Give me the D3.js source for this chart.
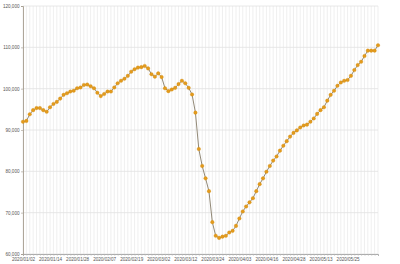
<!DOCTYPE html>
<html>
<head>
<meta charset="utf-8">
<script src="https://cdn.jsdelivr.net/npm/d3@7"></script>
<style>
  body { margin: 0; background: #fff; }
  svg { display: block; }
  .tick text { font-family: "Liberation Sans", Arial, sans-serif; fill: #555; }
</style>
</head>
<body>
<div id="chart"></div>
<script>
// trading days (Korean market calendar), Jan 2 - Jun 5 2020
var dates = [
  "2020/01/02","2020/01/03","2020/01/06","2020/01/07","2020/01/08","2020/01/09","2020/01/10","2020/01/13","2020/01/14","2020/01/15",
  "2020/01/16","2020/01/17","2020/01/20","2020/01/21","2020/01/22","2020/01/23","2020/01/28","2020/01/29","2020/01/30","2020/01/31",
  "2020/02/03","2020/02/04","2020/02/05","2020/02/06","2020/02/07","2020/02/10","2020/02/11","2020/02/12","2020/02/13","2020/02/14",
  "2020/02/17","2020/02/18","2020/02/19","2020/02/20","2020/02/21","2020/02/24","2020/02/25","2020/02/26","2020/02/27","2020/02/28",
  "2020/03/02","2020/03/03","2020/03/04","2020/03/05","2020/03/06","2020/03/09","2020/03/10","2020/03/11","2020/03/12","2020/03/13",
  "2020/03/16","2020/03/17","2020/03/18","2020/03/19","2020/03/20","2020/03/23","2020/03/24","2020/03/25","2020/03/26","2020/03/27",
  "2020/03/30","2020/03/31","2020/04/01","2020/04/02","2020/04/03","2020/04/06","2020/04/07","2020/04/08","2020/04/09","2020/04/10",
  "2020/04/13","2020/04/14","2020/04/16","2020/04/17","2020/04/20","2020/04/21","2020/04/22","2020/04/23","2020/04/24","2020/04/27",
  "2020/04/28","2020/04/29","2020/05/04","2020/05/06","2020/05/07","2020/05/08","2020/05/11","2020/05/12","2020/05/13","2020/05/14",
  "2020/05/15","2020/05/18","2020/05/19","2020/05/20","2020/05/21","2020/05/22","2020/05/25","2020/05/26","2020/05/27","2020/05/28",
  "2020/05/29","2020/06/01","2020/06/02","2020/06/03","2020/06/04","2020/06/05"
];

var values = [
  92000, 92200, 93800, 94800, 95300, 95300, 94800, 94400, 95500, 96300,
  96800, 97600, 98500, 98900, 99300, 99500, 100100, 100300, 100900, 101000,
  100600, 100100, 99000, 98200, 98700, 99300, 99300, 100300, 101300, 101900,
  102400, 103100, 104100, 104700, 105100, 105200, 105500, 104900, 103500, 102900,
  103700, 102800, 100100, 99400, 99800, 100200, 101100, 101900, 101300, 100200,
  98600, 94200, 85400, 81300, 78300, 75200, 67700, 64400, 63900, 64200,
  64400, 65200, 65600, 66800, 68600, 70300, 71500, 72500, 73500, 75200,
  76900, 78300, 79900, 81300, 82600, 83600, 85000, 86200, 87300, 88400,
  89300, 89900, 90600, 91100, 91300, 92000, 92800, 93900, 94800, 95500,
  97100, 98500, 99500, 100700, 101500, 101900, 102100, 103100, 104500, 105700,
  106500, 107900, 109200, 109200, 109200, 110500
];

var tickLabels = ["2020/01/02","2020/01/14","2020/01/28","2020/02/07","2020/02/19","2020/03/02","2020/03/12",
                  "2020/03/24","2020/04/03","2020/04/16","2020/04/28","2020/05/13","2020/05/25"];
var yTicks = [60000, 70000, 80000, 90000, 100000, 110000, 120000];

var width = 400, height = 264;
var margin = { top: 6, right: 22, bottom: 10, left: 23 };

var svg = d3.select("#chart").append("svg")
    .attr("width", width)
    .attr("height", height);

var x = d3.scalePoint()
    .domain(dates)
    .range([margin.left, width - margin.right]);

var y = d3.scaleLinear()
    .domain([60000, 120000])
    .range([height - margin.bottom, margin.top]);

// vertical grid, one line per day
svg.append("g")
    .selectAll("line")
    .data(dates)
    .enter()
    .append("line")
    .attr("x1", function(d) { return x(d); })
    .attr("x2", function(d) { return x(d); })
    .attr("y1", y(60000))
    .attr("y2", y(120000))
    .attr("stroke", "#ebebeb")
    .attr("stroke-width", 0.8);

// horizontal grid
svg.append("g")
    .selectAll("line")
    .data(yTicks)
    .enter()
    .append("line")
    .attr("x1", margin.left)
    .attr("x2", width - margin.right)
    .attr("y1", function(d) { return y(d); })
    .attr("y2", function(d) { return y(d); })
    .attr("stroke", "#e2e2e2")
    .attr("stroke-width", 0.8);

// axes
var xAxis = d3.axisBottom(x)
    .tickSize(2)
    .tickPadding(1.5)
    .tickFormat(function(d) { return tickLabels.indexOf(d) >= 0 ? d : ""; });

var gx = svg.append("g")
    .attr("transform", "translate(0," + y(60000) + ")")
    .call(xAxis);
gx.selectAll("text").style("font-size", "4.6px");
gx.select(".domain").attr("stroke", "#999").attr("stroke-width", 0.8);
gx.selectAll(".tick line").attr("stroke", "#bbb").attr("stroke-width", 0.5);

var yAxis = d3.axisLeft(y)
    .tickValues(yTicks)
    .tickSize(2)
    .tickPadding(1.5)
    .tickFormat(d3.format(","));

var gy = svg.append("g")
    .attr("transform", "translate(" + margin.left + ",0)")
    .call(yAxis);
gy.selectAll("text").style("font-size", "4.6px");
gy.select(".domain").attr("stroke", "#a59c8f").attr("stroke-width", 0.9);
gy.selectAll(".tick line").attr("stroke", "#a59c8f").attr("stroke-width", 0.6);

// line + points
var data = dates.map(function(d, i) { return { date: d, value: values[i] }; });

var line = d3.line()
    .x(function(d) { return x(d.date); })
    .y(function(d) { return y(d.value); });

svg.append("path")
    .datum(data)
    .attr("fill", "none")
    .attr("stroke", "#857a66")
    .attr("stroke-width", 0.9)
    .attr("d", line);

svg.append("g")
    .selectAll("circle")
    .data(data)
    .enter()
    .append("circle")
    .attr("cx", function(d) { return x(d.date); })
    .attr("cy", function(d) { return y(d.value); })
    .attr("r", 1.8)
    .attr("fill", "#e39a1c")
    .attr("stroke", "#d08a10")
    .attr("stroke-width", 0.3);
</script>
</body>
</html>
